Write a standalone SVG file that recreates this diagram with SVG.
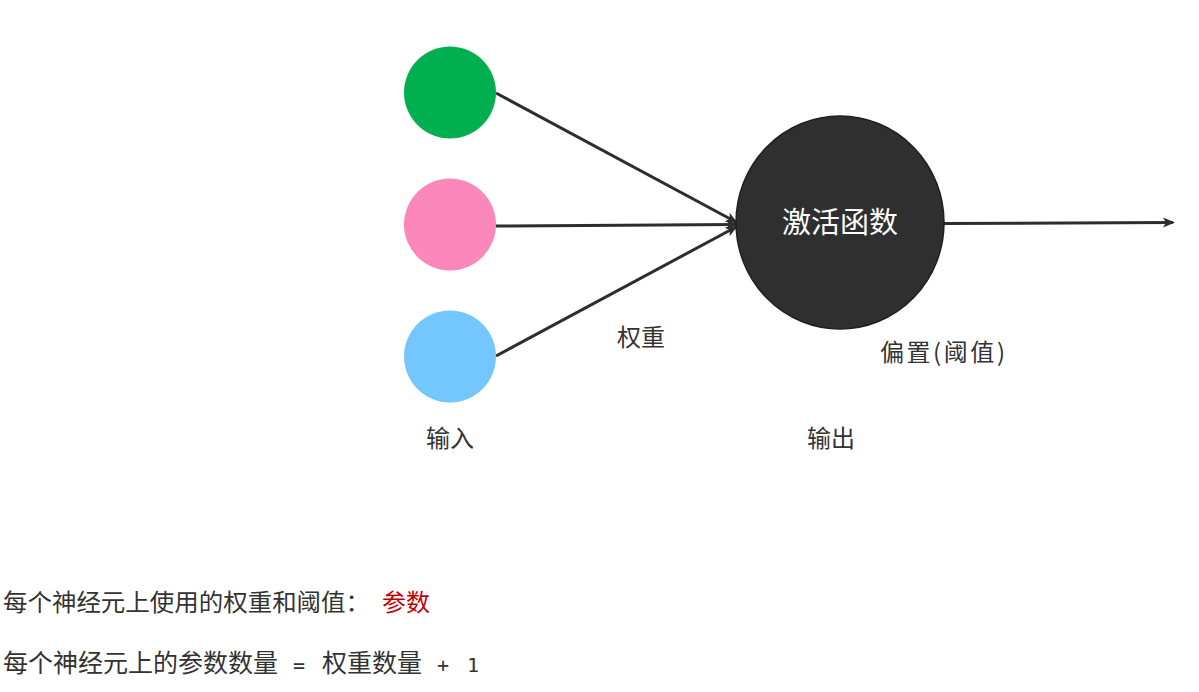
<svg xmlns="http://www.w3.org/2000/svg" width="1199" height="692" viewBox="0 0 1199 692">
<style>
.t{font-family:"Noto Sans CJK SC","Noto Sans",sans-serif;fill:#333333;font-size:24px}
.m{font-family:"DejaVu Sans Mono","Liberation Mono",monospace;fill:#333333;font-size:20px}
.c{stroke:#2d2d2d;stroke-width:3;fill:none}
</style>
<defs>
<marker id="ah" markerWidth="12" markerHeight="12" refX="10" refY="5" orient="auto" markerUnits="userSpaceOnUse" viewBox="0 0 12 10">
<path d="M0,0 L12,5 L0,10 L3,5 Z" fill="#2d2d2d"/>
</marker>
</defs>
<rect width="1199" height="692" fill="#ffffff"/>
<g id="connectors">
<line class="c" x1="496" y1="93" x2="736" y2="222" marker-end="url(#ah)"/>
<line class="c" x1="496" y1="226" x2="736" y2="224.5" marker-end="url(#ah)"/>
<line class="c" x1="496" y1="356" x2="736" y2="227" marker-end="url(#ah)"/>
<line class="c" x1="944" y1="223.5" x2="1173" y2="222.5" marker-end="url(#ah)"/>
</g>
<g id="input1"><circle cx="450" cy="92.5" r="46" fill="#00B050"/></g>
<g id="input2"><circle cx="450" cy="224.5" r="46" fill="#FC87BA"/></g>
<g id="input3"><circle cx="450" cy="356.5" r="46" fill="#73C6FE"/></g>
<g id="activation">
<ellipse cx="840" cy="222.5" rx="104" ry="106.5" fill="#2f2f2f" stroke="#1f1f1f" stroke-width="1.5"/>
<text x="840" y="233" text-anchor="middle" class="t" style="fill:#ffffff;font-size:29px">激活函数</text>
</g>
<g id="labels">
<text x="641" y="346" text-anchor="middle" class="t">权重</text>
<text x="880" y="361" class="t" textLength="125" lengthAdjust="spacing">偏置(阈值)</text>
<text x="450" y="447" text-anchor="middle" class="t">输入</text>
<text x="831" y="447" text-anchor="middle" class="t">输出</text>
<text x="3" y="611" class="t" textLength="367" lengthAdjust="spacingAndGlyphs">每个神经元上使用的权重和阈值：</text>
<text x="382" y="611" class="t" style="fill:#C00000">参数</text>
<text x="3" y="672" class="t" style="font-size:25px">每个神经元上的参数数量</text>
<text x="293" y="672" class="m">=</text>
<text x="322" y="672" class="t" style="font-size:25px">权重数量</text>
<text x="437" y="672" class="m">+</text>
<text x="467" y="672" class="m">1</text>
</g>
</svg>
